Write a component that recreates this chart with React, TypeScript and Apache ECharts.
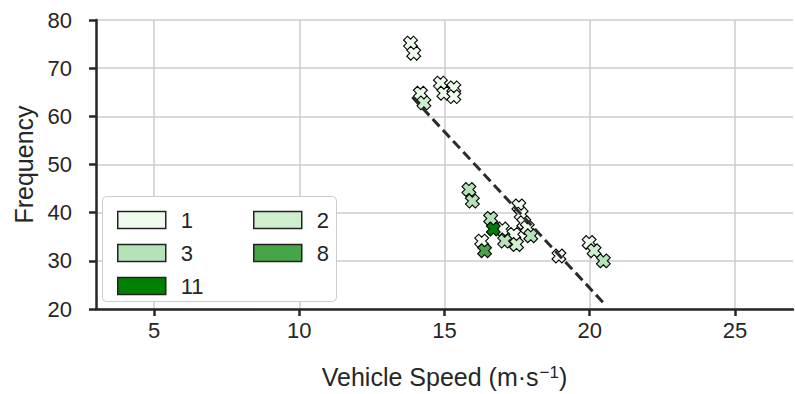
import React, { useEffect, useRef } from "react";
import * as echarts from "echarts";

// count categories shown in the legend
const categories = ["1", "2", "3", "8", "11"];
const categoryColors = ["#eefbec", "#cdefcc", "#b5e2b7", "#46a546", "#008000"];

// [speed (m/s), frequency] per category
const points1: [number, number][] = [
  [13.83, 75.2], [13.94, 73.1], [14.17, 64.8], [14.86, 66.9], [14.98, 64.8],
  [15.32, 65.9], [15.32, 64.1], [16.99, 36.6], [16.28, 34.1], [17.39, 35.5],
  [17.56, 41.4], [17.64, 39.7], [17.73, 37.9], [17.85, 36.9], [18.94, 31.0],
  [19.98, 33.8],
];
const points2: [number, number][] = [
  [14.29, 62.8], [17.48, 33.4], [20.15, 32.1],
];
const points3: [number, number][] = [
  [15.84, 44.8], [15.96, 42.4], [16.59, 38.8], [17.07, 34.1], [17.97, 35.2],
  [20.47, 30.0],
];
const points8: [number, number][] = [[16.38, 32.1]];
const points11: [number, number][] = [[16.68, 36.6]];

const trendLine: [number, number][] = [[13.89, 64.0], [20.47, 21.3]];

const xTicks = [5, 10, 15, 20, 25];

const FONT = "Liberation Sans, Arial, sans-serif";
const INK = "#262626";
const X_PATH = "path://M3,0 H7 V3 H10 V7 H7 V10 H3 V7 H0 V3 H3 Z";

export default function App() {
  const ref = useRef<HTMLDivElement>(null);
  useEffect(() => {
    if (!ref.current) return;
    const chart = echarts.init(ref.current, undefined, { renderer: "svg" });
    const groups = [points1, points2, points3, points8, points11];
    const scatterSeries = categories.map((name, i) => ({
      name,
      type: "scatter",
      data: groups[i],
      symbol: X_PATH,
      symbolSize: 14,
      symbolRotate: 45,
      itemStyle: { color: categoryColors[i], borderColor: "#000", borderWidth: 1.1, opacity: 1 },
      z: 3,
    }));
    const legendPos = [
      [112, 204], [248, 204], [112, 237], [248, 237], [112, 270],
    ];
    const legends = categories.map((name, i) => ({
      data: [{ name, icon: "rect" }],
      left: legendPos[i][0],
      top: legendPos[i][1],
      itemWidth: 48,
      itemHeight: 17,
      itemStyle: { borderColor: "#222", borderWidth: 1.5, opacity: 1 },
      textStyle: { fontFamily: FONT, fontSize: 22, color: INK, padding: [0, 0, 0, 10] },
      selectedMode: false,
      z: 20,
    }));
    chart.setOption({
      animation: false,
      grid: { left: 96, right: 2, top: 20, bottom: 84 },
      legend: legends,
      graphic: [
        {
          type: "rect",
          shape: { x: 102.5, y: 196.5, width: 234, height: 105, r: 4 },
          style: { fill: "#fff", stroke: "#cccccc", lineWidth: 1 },
          z: 10,
        },
      ],
      xAxis: {
        type: "value",
        min: 3,
        max: 27,
        name: "{a|Vehicle Speed (m·s}{s|−1}{a|)}",
        nameLocation: "middle",
        nameGap: 55,
        nameTextStyle: {
          rich: {
            a: { fontFamily: FONT, fontSize: 25, color: INK, verticalAlign: "bottom" },
            s: { fontFamily: FONT, fontSize: 17, color: INK, verticalAlign: "top", padding: [0, 0, 0, 1] },
          },
        },
        axisLine: { lineStyle: { color: INK, width: 2.5 } },
        axisTick: { show: true, length: 7, lineStyle: { color: INK, width: 2.5 }, customValues: xTicks },
        axisLabel: { fontFamily: FONT, fontSize: 22, color: INK, margin: 10, customValues: xTicks },
        splitLine: { show: true, lineStyle: { color: "#cccccc", width: 1.5 } },
      },
      yAxis: {
        type: "value",
        min: 20,
        max: 80,
        interval: 10,
        name: "Frequency",
        nameLocation: "middle",
        nameGap: 56,
        nameTextStyle: { fontFamily: FONT, fontSize: 25, color: INK },
        axisLine: { lineStyle: { color: INK, width: 2.5 } },
        axisTick: { show: true, length: 7, lineStyle: { color: INK, width: 2.5 } },
        axisLabel: { fontFamily: FONT, fontSize: 22, color: INK, margin: 24 },
        splitLine: { show: true, lineStyle: { color: "#cccccc", width: 1.5 } },
      },
      series: [
        ...scatterSeries,
        {
          type: "line",
          data: trendLine,
          symbol: "none",
          lineStyle: { color: "#2b2b2b", width: 3, type: [10, 5] },
          z: 5,
          silent: true,
        },
      ],
    });
    return () => chart.dispose();
  }, []);
  return <div ref={ref} style={{ width: 795, height: 394, position: "absolute", left: 0, top: 0 }} />;
}
